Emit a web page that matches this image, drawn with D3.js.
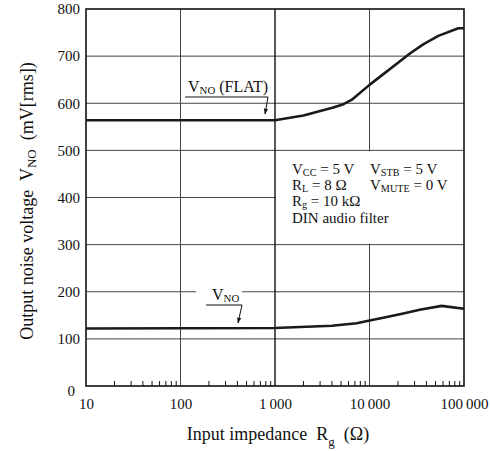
<!DOCTYPE html>
<html>
<head>
<meta charset="utf-8">
<script src="https://cdn.jsdelivr.net/npm/d3@7"></script>
<style>
    body { margin: 0; background: #fff; }
    svg, svg text { font-family: "Liberation Serif", "Times New Roman", serif; }
</style>
</head>
<body>
<div id="chart"></div>
<script>
// data
const xTicks = [10, 100, 1000, 10000, 100000];
const xTickLabels = ["10", "100", "1\u2009000", "10\u2009000", "100\u2009000"];
const yTicks = [0, 100, 200, 300, 400, 500, 600, 700, 800];

// V_NO (FLAT)
const flatR = [10, 1000, 2000, 4140, 5300, 6460, 10000, 27000, 37000, 53500, 87000, 100000];
const flatV = [564, 564, 574, 591, 598, 607, 639, 706, 725, 743, 759, 759];

// V_NO
const noR = [10, 1000, 4000, 7330, 10000, 14000, 22800, 34000, 58000, 100000];
const noV = [122, 123, 128, 133, 139, 145, 154, 162, 170, 164];

let margin = {top: 9, right: 26, bottom: 65, left: 86};
let width = 490 - margin.left - margin.right;
let height = 451 - margin.top - margin.bottom;

let svg = d3.select("#chart").append("svg")
    .attr("width", 490)
    .attr("height", 451);

let g = svg.append("g")
    .attr("transform", `translate(${margin.left}, ${margin.top})`);

let x = d3.scaleLog().domain([10, 100000]).range([0, width]);
let y = d3.scaleLinear().domain([0, 800]).range([height, 0]);

// gridlines
g.selectAll(".hgrid")
    .data(yTicks.slice(1, -1))
    .enter().append("line")
    .attr("class", "hgrid")
    .attr("x1", 0).attr("x2", width)
    .attr("y1", d => y(d)).attr("y2", d => y(d))
    .attr("stroke", "#444").attr("stroke-width", 1);

g.selectAll(".vgrid")
    .data(xTicks.slice(1, -1))
    .enter().append("line")
    .attr("class", "vgrid")
    .attr("x1", d => x(d)).attr("x2", d => x(d))
    .attr("y1", 0).attr("y2", height)
    .attr("stroke", d => d === 1000 ? "#111" : "#444")
    .attr("stroke-width", d => d === 1000 ? 1.4 : 1);

// minor ticks along bottom
let minor = x.ticks().filter(d => xTicks.indexOf(d) < 0);
g.selectAll(".minor")
    .data(minor)
    .enter().append("line")
    .attr("x1", d => x(d)).attr("x2", d => x(d))
    .attr("y1", height).attr("y2", height - 5)
    .attr("stroke", "#111").attr("stroke-width", 1);

// annotation box (clears grid between 300 and 500 right of 1 000)
g.append("rect")
    .attr("x", x(1000) + 1)
    .attr("y", y(500) + 1)
    .attr("width", x(100000) - x(1000) - 2)
    .attr("height", y(300) - y(500) - 2)
    .attr("fill", "#fff");

// gap in 200 line for label
g.append("rect")
    .attr("x", 196 - margin.left)
    .attr("y", 286 - margin.top)
    .attr("width", 46)
    .attr("height", 11)
    .attr("fill", "#fff");

// frame
g.append("rect")
    .attr("width", width).attr("height", height)
    .attr("fill", "none")
    .attr("stroke", "#111").attr("stroke-width", 1.6);

// curves
let line = d3.line()
    .x(d => x(d[0]))
    .y(d => y(d[1]));

[[flatR, flatV], [noR, noV]].forEach(s => {
    g.append("path")
        .datum(s[0].map((r, i) => [r, s[1][i]]))
        .attr("d", line)
        .attr("fill", "none")
        .attr("stroke", "#1a1a1a")
        .attr("stroke-width", 2.6)
        .attr("stroke-linejoin", "round");
});

// axes labels
let serif = '"Liberation Serif", "Times New Roman", serif';

let xAxis = d3.axisBottom(x)
    .tickValues(xTicks)
    .tickFormat((d, i) => xTickLabels[i])
    .tickSize(0).tickPadding(12);

g.append("g")
    .attr("transform", `translate(0, ${height})`)
    .call(xAxis)
    .call(a => a.select(".domain").remove())
    .selectAll("text")
    .style("font-family", serif)
    .style("font-size", "15px")
    .attr("fill", "#111");

let yAxis = d3.axisLeft(y)
    .tickValues(yTicks)
    .tickSize(0).tickPadding(6);

g.append("g")
    .call(yAxis)
    .call(a => a.select(".domain").remove())
    .selectAll("text")
    .style("font-family", serif)
    .style("font-size", "15px")
    .attr("fill", "#111")
    .attr("dx", d => d === 0 ? -5 : 0)
    .attr("dy", d => d === 0 ? "0.6em" : "0.32em");

// arrow marker
svg.append("defs").append("marker")
    .attr("id", "arr")
    .attr("viewBox", "0 0 10 10")
    .attr("refX", 9).attr("refY", 5)
    .attr("markerWidth", 6).attr("markerHeight", 6)
    .attr("orient", "auto")
    .append("path")
    .attr("d", "M0,1.5 L10,5 L0,8.5 Z")
    .attr("fill", "#111");

function label(xx, yy, size, main, sub, rest) {
    let t = svg.append("text")
        .attr("x", xx).attr("y", yy)
        .attr("font-size", size)
        .attr("fill", "#111");
    t.append("tspan").text(main);
    t.append("tspan").attr("font-size", size * 0.68).attr("dy", 2).text(sub);
    if (rest) t.append("tspan").attr("dy", -2).text(rest);
    return t;
}

// V_NO (FLAT) callout
label(188, 92, 16, "V", "NO", " (FLAT)");
svg.append("polyline")
    .attr("points", "185,97 268,97 265,114")
    .attr("fill", "none").attr("stroke", "#111").attr("stroke-width", 1)
    .attr("marker-end", "url(#arr)");

// V_NO callout
label(212, 300, 16, "V", "NO");
svg.append("polyline")
    .attr("points", "206,305 242,305 238,323")
    .attr("fill", "none").attr("stroke", "#111").attr("stroke-width", 1)
    .attr("marker-end", "url(#arr)");

// conditions
let cond = [
    [292, 174, "V", "CC", " = 5 V"],
    [370, 174, "V", "STB", " = 5 V"],
    [292, 190, "R", "L", " = 8 \u03A9"],
    [370, 190, "V", "MUTE", " = 0 V"],
    [292, 206, "R", "g", " = 10 k\u03A9"]
];
cond.forEach(c => label(c[0], c[1], 15, c[2], c[3], c[4]));
svg.append("text")
    .attr("x", 292).attr("y", 223)
    .attr("font-size", 15).attr("fill", "#111")
    .text("DIN audio filter");

// axis titles
let xt = svg.append("text")
    .attr("x", 278).attr("y", 440)
    .attr("text-anchor", "middle")
    .attr("font-size", 18).attr("fill", "#111")
    .attr("xml:space", "preserve");
xt.append("tspan").text("Input impedance  R");
xt.append("tspan").attr("font-size", 13).attr("dy", 6).text("g");
xt.append("tspan").attr("dy", -6).text("  (\u03A9)");

let yt = svg.append("text")
    .attr("transform", "translate(33, 201) rotate(-90)")
    .attr("text-anchor", "middle")
    .attr("font-size", 18).attr("fill", "#111")
    .attr("xml:space", "preserve");
yt.append("tspan").text("Output noise voltage  V");
yt.append("tspan").attr("font-size", 13).attr("dy", 3).text("NO");
yt.append("tspan").attr("dy", -3).text("  (mV[rms])");
</script>
</body>
</html>
